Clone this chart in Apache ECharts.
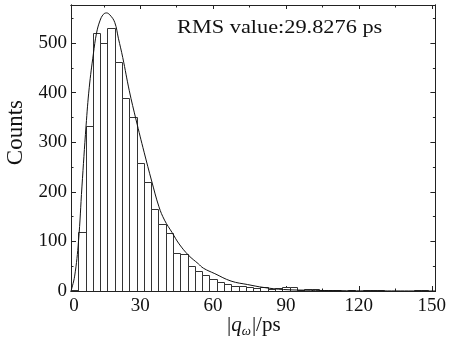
<!DOCTYPE html>
<html>
<head>
<meta charset="utf-8">
<script src="https://cdn.jsdelivr.net/npm/echarts@6/dist/echarts.min.js"></script>
<style>
  html, body { margin: 0; padding: 0; background: #fff; }
  #chart { width: 449px; height: 343px; }
</style>
</head>
<body>
<div id="chart"></div>
<script>
// histogram bins (centre of each 3 ps bin) and counts
const binWidth = 3
const binCenters = [3, 6, 9, 12, 15, 18, 21, 24, 27, 30,
  33, 36, 39, 42, 45, 48, 51, 54, 57, 60,
  63, 66, 69, 72, 75, 78, 81, 84, 87, 90,
  93, 96, 99, 102, 105, 108, 111, 114, 117, 120,
  123, 126, 129, 132, 135, 138, 141, 144, 147, 150]
const counts = [3, 120, 333, 520, 500, 530, 461, 389, 352, 259,
  219, 166, 136, 118, 77, 75, 50, 40, 33, 25,
  18, 15, 11, 10, 8, 6, 8, 5, 6, 8,
  8, 2, 5, 5, 2, 3, 3, 1, 3, 1,
  2, 3, 3, 1, 1, 1, 0, 2, 2, 1]

// fitted curve
const fitX = [1.5, 3, 4.6, 6, 7.7, 9, 10.7, 12, 13.4, 14.8, 16.1, 17.5, 19.5, 21, 22.8,
  25.5, 28.3, 31.6, 34.7, 37.7, 40, 43.1, 46, 49.9, 53.9, 56, 60.7, 67.4, 74.2,
  81, 89, 100, 115, 130, 151.5]
const fitY = [0, 30, 101, 210, 333, 410, 478, 520, 545, 558, 561, 557, 542, 510, 471,
  404, 345, 280, 222, 170, 143, 118, 95, 72, 55, 46, 35, 20, 13,
  7, 3, 1.5, 0.5, 0.2, 0]

const xLabelVals = [1.5, 30, 60, 90, 120, 150]
const xMajorTicks = [30, 60, 90, 120, 150]
const xMinorTicks = [15, 45, 75, 105, 135]
const yLabelVals = [0, 100, 200, 300, 400, 500]
const yMinorTicks = [50, 150, 250, 350, 450, 550]

const rmsText = 'RMS value:29.8276 ps'
const xMin = 1.5, xMax = 151.5, yMin = 0, yMax = 577

const FONT = "'Liberation Serif', 'Times New Roman', serif"
const INK = '#222'

function xAxisDef(pos, ticks, len, withLabels) {
  return {
    type: 'value', position: pos, min: xMin, max: xMax,
    axisLine: { show: true, onZero: false, lineStyle: { color: INK, width: 1 } },
    axisTick: { show: true, inside: true, length: len, customValues: ticks, lineStyle: { color: INK } },
    axisLabel: withLabels ? {
      show: true, customValues: xLabelVals, margin: 6,
      fontFamily: FONT, fontSize: 19, color: '#111',
      // the first bin edge carries the "0" label, nudged right a bit
      formatter: v => (v === 1.5 ? '{z|0}' : String(v)),
      rich: { z: { fontFamily: FONT, fontSize: 19, color: '#111', padding: [0, 0, 0, 6] } }
    } : { show: false },
    splitLine: { show: false }
  }
}
function yAxisDef(pos, ticks, len, withLabels) {
  return {
    type: 'value', position: pos, min: yMin, max: yMax,
    axisLine: { show: true, onZero: false, lineStyle: { color: INK, width: 1 } },
    axisTick: { show: true, inside: true, length: len, customValues: ticks, lineStyle: { color: INK } },
    axisLabel: withLabels ? {
      show: true, customValues: yLabelVals, margin: 4,
      fontFamily: FONT, fontSize: 19, color: '#111'
    } : { show: false },
    splitLine: { show: false }
  }
}

const chart = echarts.init(document.getElementById('chart'), null, { renderer: 'canvas' })

chart.setOption({
  animation: false,
  backgroundColor: '#fff',
  grid: { left: 71, right: 9, top: 5, bottom: 52, containLabel: false },
  xAxis: [
    xAxisDef('bottom', xMajorTicks, 5, true),
    xAxisDef('bottom', xMinorTicks, 2.5, false),
    xAxisDef('top', xMajorTicks, 4, false),
    xAxisDef('top', xMinorTicks, 2.5, false)
  ],
  yAxis: [
    yAxisDef('left', yLabelVals, 5, true),
    yAxisDef('left', yMinorTicks, 2.5, false),
    yAxisDef('right', yLabelVals, 5, false),
    yAxisDef('right', yMinorTicks, 2.5, false)
  ],
  graphic: [
    {
      // annotation, drawn a little wide like the original font
      type: 'text', x: 177, y: 19, scaleX: 1.24, z: 10,
      style: { x: 0, y: 0, text: rmsText, fontFamily: FONT, fontSize: 18, fill: '#111', verticalAlign: 'top' }
    },
    {
      type: 'text', left: 4, top: 100, rotation: Math.PI / 2,
      style: { text: 'Counts', fontFamily: FONT, fontSize: 23, fill: '#111' }
    },
    {
      type: 'text', left: 227, top: 315,
      style: {
        text: '|{q|q}{w|ω}|/ps',
        fontFamily: FONT, fontSize: 21, fill: '#111',
        rich: {
          q: { fontFamily: FONT, fontSize: 21, fontStyle: 'italic', fill: '#111' },
          w: { fontFamily: FONT, fontSize: 13, fontStyle: 'italic', fill: '#111', padding: [12, 1, 0, 0] }
        }
      }
    }
  ],
  series: [
    {
      type: 'custom',
      xAxisIndex: 0, yAxisIndex: 0,
      clip: true,
      data: binCenters.map((c, i) => [c, counts[i]]),
      renderItem(params, api) {
        const c = api.value(0)
        const v = api.value(1)
        const p0 = api.coord([c - binWidth / 2, v])
        const p1 = api.coord([c + binWidth / 2, 0])
        const x0 = Math.round(p0[0]) + 0.5
        const x1 = Math.round(p1[0]) + 0.5
        const y0 = Math.round(p0[1]) + 0.5
        const y1 = Math.round(p1[1]) + 0.5
        return {
          type: 'rect',
          shape: { x: x0, y: y0, width: x1 - x0, height: y1 - y0 },
          style: { fill: '#fff', stroke: '#333', lineWidth: 1 }
        }
      },
      z: 2
    },
    {
      type: 'line',
      xAxisIndex: 0, yAxisIndex: 0,
      data: fitX.map((x, i) => [x, fitY[i]]),
      smooth: 0.4,
      showSymbol: false,
      clip: true,
      lineStyle: { color: '#111', width: 1 },
      z: 3
    }
  ]
})
</script>
</body>
</html>
